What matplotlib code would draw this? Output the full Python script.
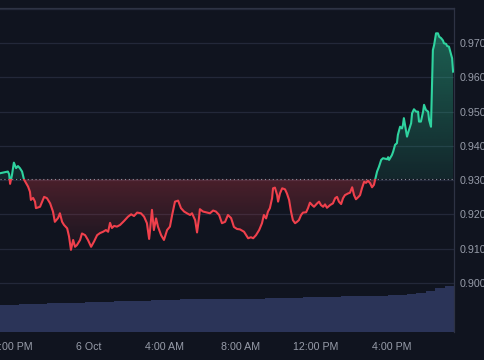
import pandas as pd
import numpy as np
import matplotlib
matplotlib.use("Agg")
import matplotlib.pyplot as plt
import matplotlib.dates as mdates
from matplotlib.patches import Rectangle, PathPatch
from matplotlib.path import Path

# window start and price trace (minutes after start, price)
start = pd.Timestamp("2024-10-05 19:18")
minutes = [0, 10, 19, 25, 29, 32, 38, 44, 51, 57, 63, 70, 76, 82, 89, 95, 98, 105, 111, 114,
           127, 140, 149, 159, 168, 174, 184, 190, 197, 203, 213, 219, 225, 232, 238, 244, 254, 260, 270, 279,
           289, 298, 308, 317, 327, 336, 343, 349, 355, 362, 371, 381, 393, 406, 416, 425, 435, 447, 457, 466,
           473, 476, 482, 488, 495, 501, 511, 520, 530, 539, 546, 555, 565, 574, 584, 593, 603, 609, 619, 625,
           631, 634, 644, 657, 666, 676, 685, 695, 704, 714, 723, 733, 742, 752, 761, 774, 787, 796, 803, 812,
           822, 831, 837, 844, 850, 856, 863, 866, 872, 879, 882, 888, 895, 904, 910, 917, 923, 929, 936, 942,
           948, 955, 961, 971, 977, 983, 990, 996, 1006, 1012, 1018, 1025, 1031, 1037, 1047, 1056, 1063, 1069, 1075, 1082,
           1088, 1094, 1104, 1110, 1117, 1123, 1129, 1136, 1142, 1148, 1155, 1161, 1167, 1174, 1180, 1186, 1190, 1196, 1202, 1209,
           1215, 1228, 1231, 1234, 1243, 1247, 1253, 1259, 1262, 1269, 1275, 1278, 1281, 1288, 1291, 1297, 1304, 1307, 1313, 1320,
           1326, 1329, 1335, 1342, 1345, 1351, 1358, 1361, 1367, 1370, 1373, 1377, 1383, 1389, 1393, 1399, 1405, 1408, 1415, 1418,
           1424, 1434, 1437]
price = [0.9320, 0.9322, 0.9324, 0.9325, 0.9317, 0.9289, 0.9315, 0.9351, 0.9335, 0.9341, 0.9335, 0.9325, 0.9302, 0.9292, 0.9281, 0.9266, 0.9242, 0.9248, 0.9237, 0.9218,
         0.9222, 0.9251, 0.9247, 0.9232, 0.9208, 0.9178, 0.9189, 0.9203, 0.9178, 0.9169, 0.9159, 0.9135, 0.9096, 0.9125, 0.9105, 0.9110, 0.9125, 0.9144, 0.9139, 0.9125,
         0.9105, 0.9120, 0.9139, 0.9145, 0.9149, 0.9154, 0.9149, 0.9175, 0.9160, 0.9166, 0.9164, 0.9169, 0.9180, 0.9193, 0.9200, 0.9195, 0.9205, 0.9203, 0.9193, 0.9174,
         0.9128, 0.9154, 0.9213, 0.9154, 0.9188, 0.9164, 0.9139, 0.9125, 0.9154, 0.9164, 0.9198, 0.9237, 0.9240, 0.9218, 0.9208, 0.9203, 0.9198, 0.9203, 0.9183, 0.9147,
         0.9188, 0.9215, 0.9208, 0.9205, 0.9203, 0.9211, 0.9208, 0.9198, 0.9174, 0.9178, 0.9198, 0.9189, 0.9163, 0.9157, 0.9156, 0.9149, 0.9130, 0.9133, 0.9130, 0.9139,
         0.9154, 0.9174, 0.9198, 0.9188, 0.9208, 0.9218, 0.9247, 0.9276, 0.9278, 0.9256, 0.9237, 0.9261, 0.9276, 0.9273, 0.9261, 0.9242, 0.9208, 0.9183, 0.9174, 0.9178,
         0.9183, 0.9198, 0.9205, 0.9206, 0.9218, 0.9234, 0.9227, 0.9222, 0.9232, 0.9237, 0.9227, 0.9222, 0.9229, 0.9219, 0.9227, 0.9232, 0.9247, 0.9251, 0.9237, 0.9230,
         0.9247, 0.9256, 0.9261, 0.9263, 0.9279, 0.9256, 0.9244, 0.9250, 0.9256, 0.9276, 0.9295, 0.9292, 0.9298, 0.9291, 0.9279, 0.9286, 0.9302, 0.9325, 0.9339, 0.9359,
         0.9364, 0.9361, 0.9367, 0.9359, 0.9373, 0.9383, 0.9403, 0.9408, 0.9432, 0.9456, 0.9451, 0.9461, 0.9481, 0.9442, 0.9427, 0.9446, 0.9466, 0.9495, 0.9507, 0.9500,
         0.9500, 0.9471, 0.9471, 0.9500, 0.9520, 0.9505, 0.9500, 0.9476, 0.9456, 0.9573, 0.9680, 0.9695, 0.9729, 0.9729, 0.9719, 0.9715, 0.9708, 0.9700, 0.9698, 0.9692,
         0.9690, 0.9656, 0.9617]
baseline = 0.9302

# 30 min volume bars
volume = [27.0, 27.3, 27.6, 28.0, 28.3, 28.6, 28.9, 29.2, 29.4, 29.7, 30.0, 30.3, 30.6, 30.9, 31.1, 31.4,
          31.7, 32.0, 32.2, 32.6, 32.8, 33.0, 33.0, 33.1, 33.1, 33.2, 33.4, 33.5, 33.7, 33.9, 34.1, 34.4,
          34.7, 35.0, 35.2, 35.4, 35.6, 35.8, 36.0, 36.2, 36.4, 36.7, 37.3, 38.1, 38.6, 41.0, 44.5, 45.9]

tick_times = ["2024-10-05 20:00", "2024-10-06 00:00", "2024-10-06 04:00",
              "2024-10-06 08:00", "2024-10-06 12:00", "2024-10-06 16:00"]
tick_labels = ["8:00 PM", "6 Oct", "4:00 AM", "8:00 AM", "12:00 PM", "4:00 PM"]
price_ticks = [0.900, 0.910, 0.920, 0.930, 0.940, 0.950, 0.960, 0.970]

bg = "#10141f"
grid_c = "#232839"
text_c = "#979ca9"
green = "#2fd39f"
red = "#f0404c"
vol_c = "#2b3458"

plt.rcParams["font.family"] = ["Liberation Sans", "DejaVu Sans"]

t = mdates.date2num([start + pd.Timedelta(minutes=m) for m in minutes])
p = np.array(price)
vt = mdates.date2num([start + pd.Timedelta(minutes=30 * i) for i in range(len(volume))])
x0 = mdates.date2num(start)
x1 = mdates.date2num(start + pd.Timedelta(hours=24))

fig = plt.figure(figsize=(4.85, 3.6), dpi=100, facecolor=bg)
vax = fig.add_axes([0, 28 / 360, 454 / 485, 324 / 360])
vax.set_facecolor(bg)
vax.bar(vt, volume, width=30 / 1440 * 1.03, align="edge", color=vol_c, linewidth=0)
vax.set_ylim(0, 324)
vax.set_xlim(x0, x1)
vax.axis("off")

ax = fig.add_axes([0, 28 / 360, 454 / 485, 324 / 360], sharex=vax)
ax.patch.set_visible(False)
ax.set_xlim(x0, x1)
ax.set_ylim(0.8856, 0.9803)

# gradient fills
def grad_fill(mask, y_lo, y_hi, a_lo, a_hi, color):
    coll = ax.fill_between(t, p, baseline, where=mask, interpolate=True, color="none", linewidth=0)
    path = Path.make_compound_path(*coll.get_paths())
    patch = PathPatch(path, transform=ax.transData, facecolor="none", edgecolor="none")
    ax.add_patch(patch)
    rgb = matplotlib.colors.to_rgb(color)
    n = 256
    arr = np.zeros((n, 2, 4))
    arr[:, :, :3] = rgb
    arr[:, :, 3] = np.linspace(a_lo, a_hi, n)[:, None]
    im = ax.imshow(arr, extent=[x0, x1, y_lo, y_hi], origin="lower", aspect="auto", zorder=1)
    im.set_clip_path(patch)

grad_fill(p >= baseline, baseline, p.max(), 0.1, 0.4, green)
grad_fill(p <= baseline, p.min(), baseline, 0.04, 0.26, red)

# line split at baseline
up, = ax.plot(t, p, color=green, lw=1.5, zorder=3, solid_joinstyle="round")
dn, = ax.plot(t, p, color=red, lw=1.5, zorder=3, solid_joinstyle="round")
up.set_clip_path(Rectangle((x0, baseline), x1 - x0, 1, transform=ax.transData))
dn.set_clip_path(Rectangle((x0, 0), x1 - x0, baseline, transform=ax.transData))

ax.axhline(baseline, color="#8a8f9c", lw=0.8, ls=(0, (1, 2.5)), zorder=2)

ax.set_yticks(price_ticks + [0.980])
ax.set_yticklabels([f"{v:.3f}" for v in price_ticks] + [""])
ax.yaxis.tick_right()
ax.grid(axis="y", color=grid_c, lw=0.9)
ax.set_axisbelow(True)
ax.set_xticks(mdates.date2num(pd.to_datetime(tick_times)))
ax.set_xticklabels(tick_labels)
ax.tick_params(axis="both", length=0, colors=text_c, labelsize=7.7)
ax.tick_params(axis="y", pad=4)
ax.tick_params(axis="x", pad=7)
for s in ["left", "bottom"]:
    ax.spines[s].set_visible(False)
for s in ["top", "right"]:
    ax.spines[s].set_color("#2e3344")
    ax.spines[s].set_linewidth(0.9)

fig.savefig("out.png", dpi=100, facecolor=bg)
